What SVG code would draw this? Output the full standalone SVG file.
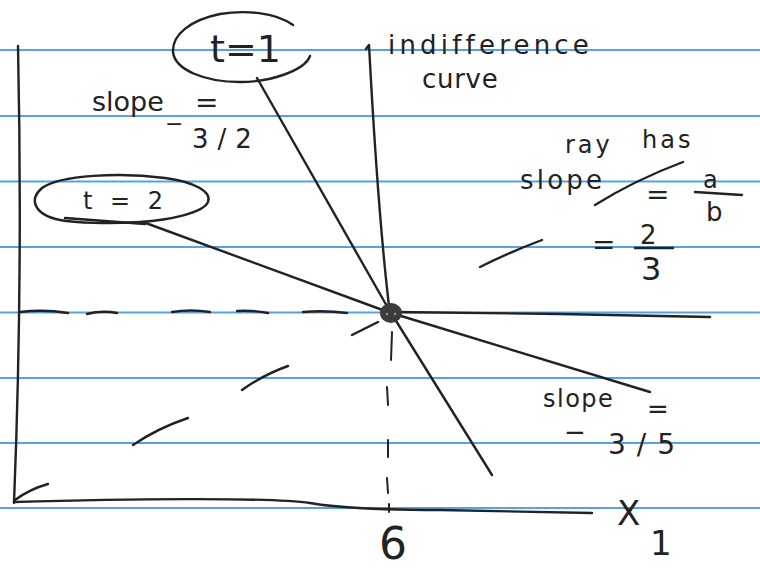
<svg xmlns="http://www.w3.org/2000/svg" width="760" height="571" viewBox="0 0 760 571">
<defs>
<style>
.rule{stroke:#55a3e6;stroke-width:1.8;fill:none}
.ink{stroke:#222;stroke-width:2.4;fill:none;stroke-linecap:round;stroke-linejoin:round}
.thin{stroke:#222;stroke-width:2;fill:none;stroke-linecap:round}
.txt{font-family:"DejaVu Sans","Liberation Sans",sans-serif;fill:#222}
</style>
</defs>
<rect width="760" height="571" fill="#ffffff"/>
<g id="paper">
<line class="rule" x1="0" y1="50" x2="760" y2="50"/>
<line class="rule" x1="0" y1="116" x2="760" y2="116"/>
<line class="rule" x1="0" y1="181.5" x2="760" y2="181.5"/>
<line class="rule" x1="0" y1="247" x2="760" y2="247"/>
<line class="rule" x1="0" y1="312.5" x2="760" y2="312.5"/>
<line class="rule" x1="0" y1="378" x2="760" y2="378"/>
<line class="rule" x1="0" y1="443" x2="760" y2="443"/>
<line class="rule" x1="0" y1="508" x2="760" y2="508"/>
</g>
<g id="axes">
<path class="ink" d="M18,46 Q23,280 14,503"/>
<path class="ink" d="M14,502 C120,499 270,497 310,503 C345,509 400,510 440,510 L592,513"/>
</g>
<g id="guides">
<path class="ink" d="M20,312 Q44,309 68,313"/>
<path class="ink" d="M87,314 Q102,310 117,313"/>
<path class="ink" d="M172,312 Q191,309 210,312"/>
<path class="ink" d="M237,311 Q252,310 268,313"/>
<path class="ink" d="M303,312 Q325,310 347,313"/>
<path class="ink" d="M395,312 L560,314 L710,317"/>
<path class="thin" d="M392,332 L391,360"/>
<path class="thin" d="M387,387 L388,405"/>
<path class="thin" d="M388,440 L388,457"/>
<path class="thin" d="M387,478 L388,493"/>
<path class="thin" d="M389,504 L389,512"/>
</g>
<g id="indifference-curve">
<path class="ink" d="M366,49 L369,45 C373,120 380,230 389,306"/>
</g>
<g id="ray">
<path class="ink" d="M15,500 Q30,489 48,484"/>
<path class="ink" d="M133,445 Q158,428 188,418"/>
<path class="ink" d="M242,390 Q263,375 288,366"/>
<path class="ink" d="M352,335 L378,322"/>
<path class="ink" d="M480,267 Q510,252 542,240"/>
<path class="ink" d="M595,205 Q635,180 683,162"/>
</g>
<g id="connectors">
<path class="ink" d="M257,78 L388,308 L492,475"/>
<path class="ink" d="M143,222 L388,312 L650,392"/>
</g>
<g id="point">
<ellipse cx="391" cy="313" rx="11" ry="10" fill="#3c3c3c"/>
<circle cx="387" cy="314" r="1.2" fill="#999"/>
<circle cx="395" cy="314" r="1.2" fill="#999"/>
</g>
<g id="node-t1">
<path class="ink" d="M293,25 C275,12 245,10 220,14 C190,20 172,35 173,52 C175,70 205,82 240,82 C272,82 305,70 310,56"/>
<text class="txt" x="210" y="62" font-size="38">t=1</text>
</g>
<g id="node-t2">
<path class="ink" d="M60,220 C35,215 28,200 42,188 C60,175 120,172 165,178 C195,182 212,192 208,202 C203,213 170,220 140,222 C110,224 75,223 60,220"/>
<path class="ink" d="M65,218 L145,224"/>
<text class="txt" x="83" y="209" font-size="24" textLength="80">t = 2</text>
</g>
<g id="labels">
<text class="txt" font-size="27"><tspan x="92" y="111">slope</tspan><tspan x="195" y="112" font-size="28">=</tspan><tspan x="165" y="131" font-size="22">−</tspan><tspan x="192" y="148" font-size="26" letter-spacing="9">3/2</tspan></text>
<text class="txt" font-size="26"><tspan x="388" y="54" letter-spacing="4.2">indifference</tspan><tspan x="422" y="88" letter-spacing="0.7">curve</tspan></text>
<text class="txt" font-size="24"><tspan x="565" y="153" letter-spacing="3">ray</tspan><tspan x="642" y="148" letter-spacing="3">has</tspan><tspan x="520" y="189" font-size="26" letter-spacing="3.2">slope</tspan><tspan x="646" y="204" font-size="28">=</tspan><tspan x="703" y="188">a</tspan><tspan x="706" y="221" font-size="26">b</tspan><tspan x="592" y="254" font-size="28">=</tspan><tspan x="640" y="244" font-size="26">2</tspan><tspan x="641" y="280" font-size="32">3</tspan></text>
<line class="ink" x1="695" y1="192" x2="742" y2="195"/>
<line class="ink" x1="635" y1="248" x2="673" y2="248"/>
<text class="txt" font-size="24"><tspan x="543" y="407" letter-spacing="1.5">slope</tspan><tspan x="647" y="418" font-size="26">=</tspan><tspan x="564" y="441" font-size="26">−</tspan><tspan x="608" y="454" font-size="28" letter-spacing="11">3/5</tspan></text>
<text class="txt" x="617" y="525" font-size="34">X<tspan x="650" y="555">1</tspan></text>
<text class="txt" x="379" y="559" font-size="44">6</text>
</g>
</svg>
